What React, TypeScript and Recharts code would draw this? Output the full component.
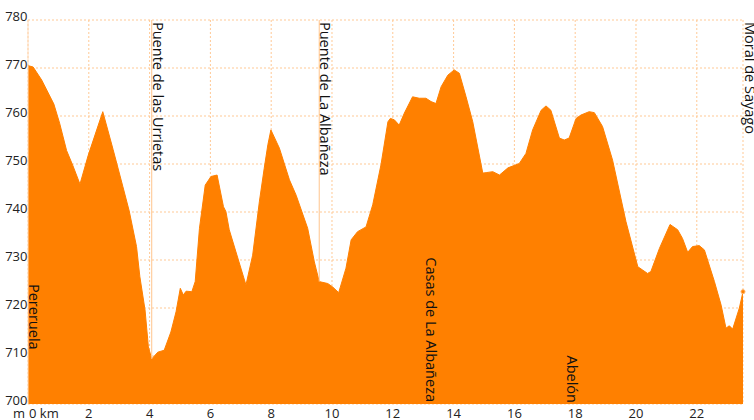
import { AreaChart, Area, XAxis, YAxis, CartesianGrid, ReferenceLine } from "recharts";

// distance along the route (km) and elevation (m)
const distanceKm = [
  0, 0.17, 0.45, 0.85, 1.04, 1.27, 1.48, 1.71, 1.98, 2.46,
  2.8, 3.12, 3.33, 3.57, 3.68, 3.85, 3.96, 4.07, 4.27, 4.48,
  4.7, 4.87, 5.01, 5.11, 5.2, 5.39, 5.5, 5.64, 5.83, 6.02,
  6.22, 6.43, 6.51, 6.62, 6.84, 7.17, 7.39, 7.61, 7.77, 7.89,
  7.99, 8.27, 8.6, 8.82, 9.2, 9.42, 9.58, 9.86, 10.02, 10.22,
  10.46, 10.63, 10.84, 11.12, 11.34, 11.61, 11.84, 11.92, 12.05, 12.21,
  12.38, 12.65, 12.87, 13.09, 13.26, 13.42, 13.59, 13.81, 14.02, 14.19,
  14.41, 14.63, 14.96, 15.07, 15.29, 15.51, 15.79, 16.16, 16.38, 16.6,
  16.88, 17.04, 17.2, 17.48, 17.64, 17.8, 18.03, 18.19, 18.46, 18.63,
  18.9, 19.23, 19.67, 20.06, 20.22, 20.38, 20.49, 20.77, 21.12, 21.37,
  21.53, 21.7, 21.86, 22.08, 22.25, 22.58, 22.8, 22.96, 23.07, 23.18,
  23.4, 23.52,
];

const elevationM = [
  770.5, 770.2, 767.5, 762.5, 758.5, 752.8, 749.6, 745.8, 751.8, 760.9,
  753, 745.3, 740.2, 732.8, 726.5, 719.6, 711.9, 709.4, 710.8, 711.2,
  715, 719.2, 724.1, 722.7, 723.5, 723.4, 725.5, 736.6, 745.6, 747.4,
  747.7, 741.1, 740.1, 736.3, 731.7, 724.8, 731, 742.1, 749.1, 754,
  757.1, 753.3, 746.7, 743.5, 736.6, 729.6, 725.5, 725.1, 724.4, 723.2,
  728.3, 734.2, 735.9, 736.9, 741.5, 749.8, 758.8, 759.5, 759.2, 758.1,
  760.6, 764, 763.7, 763.7, 763, 762.6, 766.1, 768.5, 769.6, 768.9,
  764, 758.8, 748.1, 748.2, 748.4, 747.7, 749.2, 750.1, 752.2, 757.1,
  761.2, 762.1, 761.2, 755.4, 755, 755.4, 759.5, 760.2, 760.9, 760.7,
  757.8, 750.8, 738, 728.6, 727.9, 727.2, 727.6, 732.4, 737.4, 736.3,
  734.5, 731.6, 732.8, 733, 732.1, 725.5, 720.6, 715.8, 716.3, 715.6,
  720, 723.4,
];

const kmTicks = [0, 2, 4, 6, 8, 10, 12, 14, 16, 18, 20, 22];
const elevTicks = [700, 710, 720, 730, 740, 750, 760, 770, 780];

const waypointNames = [
  "Pereruela", "Puente de las Urrietas", "Puente de La Albañeza",
  "Casas de La Albañeza", "Abelón", "Moral de Sayago",
];
const waypointKm = [0, 4.07, 9.58, 13.09, 17.73, 23.52];
const bridgeKm = [4.07, 9.58];

const data = distanceKm.map((km, i) => ({ km, elev: elevationM[i] }));
const maxKm = distanceKm[distanceKm.length - 1];

function elevAt(km: number) {
  for (let i = 1; i < distanceKm.length; i++) {
    if (distanceKm[i] >= km) {
      const t = (km - distanceKm[i - 1]) / (distanceKm[i] - distanceKm[i - 1]);
      return elevationM[i - 1] + t * (elevationM[i] - elevationM[i - 1]);
    }
  }
  return elevationM[elevationM.length - 1];
}

const FONT = "'Open Sans', sans-serif";
const ORANGE = "#FF8000";
const GRID = "#FFC995";
const FRAME = "#FFDCBC";

// where each name sits along its vertical line
const labelPlace: Record<string, { top?: number; end?: number; dx: number }> = {
  "Pereruela": { top: 264, dx: 1 },
  "Puente de las Urrietas": { top: 2, dx: 1 },
  "Puente de La Albañeza": { top: 2, dx: 1 },
  "Casas de La Albañeza": { end: -2, dx: 0 },
  "Abelón": { end: -1, dx: 0 },
  "Moral de Sayago": { top: 2, dx: 2 },
};

function WaypointLabel(props: any) {
  const { viewBox, name } = props;
  if (!viewBox) return null;
  const p = labelPlace[name];
  const x = viewBox.x + p.dx;
  const y = p.top !== undefined ? viewBox.y + p.top : viewBox.y + viewBox.height + (p.end ?? 0);
  return (
    <text
      x={x}
      y={y}
      transform={`rotate(90 ${x} ${y})`}
      textAnchor={p.top !== undefined ? "start" : "end"}
      fontFamily={FONT}
      fontSize={14.5}
      fill="#111"
    >
      {name}
    </text>
  );
}

function YTick(props: any) {
  const { x, y, payload } = props;
  return (
    <text x={x - 0.5} y={y + 1} textAnchor="end" fontFamily={FONT} fontSize={13} fill="#222">
      {payload.value}
    </text>
  );
}

function XTick(props: any) {
  const { x, y, payload } = props;
  if (payload.value === 0) {
    return (
      <g>
        <text x={x - 15} y={y + 14} textAnchor="start" fontFamily={FONT} fontSize={13} fill="#222">m</text>
        <text x={x + 1} y={y + 14} textAnchor="start" fontFamily={FONT} fontSize={13} fill="#222">0 km</text>
      </g>
    );
  }
  return (
    <text x={x} y={y + 14} textAnchor="middle" fontFamily={FONT} fontSize={13} fill="#222">
      {payload.value}
    </text>
  );
}

function EndDot(props: any) {
  const { cx, cy, index } = props;
  if (index !== data.length - 1) return <g key={index} />;
  return <circle key={index} cx={cx} cy={cy} r={2} fill={ORANGE} stroke="#FFB060" strokeWidth={1} />;
}

export default function App() {
  return (
    <div style={{ position: "absolute", left: 0, top: 0, width: 754, height: 420, background: "#fff" }}>
      <AreaChart width={754} height={420} data={data} margin={{ top: 20, right: 11, left: 0, bottom: 0 }}>
        <CartesianGrid stroke={GRID} strokeDasharray="2 2" />
        <XAxis
          dataKey="km"
          type="number"
          domain={[0, maxKm]}
          ticks={kmTicks}
          tick={<XTick />}
          tickLine={false}
          axisLine={false}
          tickSize={0}
          tickMargin={0}
          height={16}
          interval={0}
        />
        <XAxis
          xAxisId="top"
          orientation="top"
          dataKey="km"
          type="number"
          domain={[0, maxKm]}
          tick={false}
          tickLine={false}
          axisLine={{ stroke: FRAME, strokeWidth: 2 }}
          height={0}
        />
        <YAxis
          type="number"
          domain={[700, 780]}
          ticks={elevTicks}
          tick={<YTick />}
          tickLine={false}
          axisLine={{ stroke: FRAME, strokeWidth: 1 }}
          tickSize={0}
          tickMargin={0}
          width={28}
          interval={0}
        />
        <YAxis
          yAxisId="right"
          orientation="right"
          type="number"
          domain={[700, 780]}
          tick={false}
          tickLine={false}
          axisLine={{ stroke: FRAME, strokeWidth: 2 }}
          width={0}
        />
        {bridgeKm.map((km) => (
          <ReferenceLine
            key={"b" + km}
            segment={[{ x: km, y: 780 }, { x: km, y: elevAt(km) }]}
            stroke="#FFC48C"
            strokeWidth={1}
          />
        ))}
        <Area
          type="linear"
          dataKey="elev"
          stroke={ORANGE}
          strokeWidth={1}
          fill={ORANGE}
          fillOpacity={1}
          baseValue="dataMin"
          dot={<EndDot />}
          activeDot={false}
          isAnimationActive={false}
        />
        {waypointNames.map((name, i) => (
          <ReferenceLine
            key={name}
            x={waypointKm[i]}
            stroke="none"
            label={<WaypointLabel name={name} />}
          />
        ))}
      </AreaChart>
    </div>
  );
}
